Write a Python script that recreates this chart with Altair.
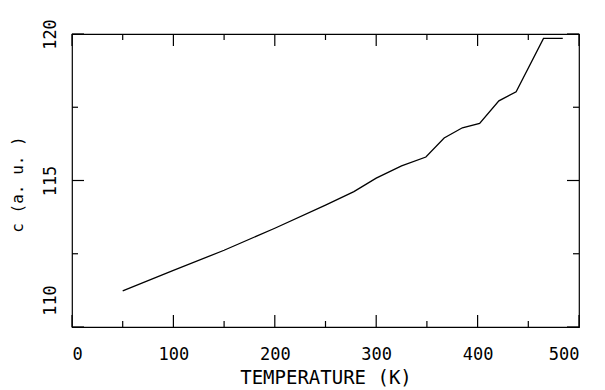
import altair as alt
import pandas as pd

# Data
temperature = [50, 100, 150, 200, 250, 278, 300, 325, 349, 367, 385, 402, 421, 438, 465, 484]
c_value = [111.23, 111.93, 112.62, 113.37, 114.16, 114.62, 115.08, 115.5, 115.8,
           116.45, 116.8, 116.95, 117.72, 118.03, 119.85, 119.85]

x_major = [0, 100, 200, 300, 400, 500]
x_minor = [50, 150, 250, 350, 450]
y_major = [110, 115, 120]
y_minor = [112.5, 117.5]

W, H = 507, 293
FONT = "DejaVu Sans Mono"
MAJ, MIN = 12, 6

xs = alt.Scale(domain=[0, 500], nice=False, zero=False)
ys = alt.Scale(domain=[110, 120], nice=False, zero=False)

x_axis = alt.Axis(
    values=x_major, ticks=False, grid=False, domain=False,
    labelFont=FONT, labelFontSize=17, labelColor="black", labelPadding=19,
    title="TEMPERATURE  (K)", titleFont=FONT, titleFontSize=19,
    titleFontWeight="normal", titleColor="black",
    titleBaseline="alphabetic", titleY=56)
y_axis = alt.Axis(
    values=y_major, ticks=False, grid=False, domain=False,
    labelFont=FONT, labelFontSize=17, labelColor="black", labelPadding=17,
    labelAngle=270, labelAlign="center", labelBaseline="alphabetic",
    labelOffset={"condition": {"test": "datum.value == 110", "value": -27}, "value": 0},
    title="c   (a. u. )", titleFont=FONT, titleFontSize=16,
    titleFontWeight="normal", titleColor="black",
    titleAngle=270, titleAlign="center", titleBaseline="alphabetic",
    titleX=-50, titleY=150)

df = pd.DataFrame({"T": temperature, "c": c_value})

line = alt.Chart(df).mark_line(color="black", strokeWidth=1.3).encode(
    x=alt.X("T:Q", scale=xs, axis=x_axis),
    y=alt.Y("c:Q", scale=ys, axis=y_axis),
)


def xticks(vals, length, top):
    d = pd.DataFrame({"T": vals})
    y0 = 0 if top else H
    y1 = length if top else H - length
    return alt.Chart(d).mark_rule(color="black", strokeWidth=1.2).encode(
        x=alt.X("T:Q", scale=xs, axis=x_axis),
        y=alt.value(y0), y2=alt.value(y1))


def yticks(vals, length, right):
    d = pd.DataFrame({"c": vals})
    x0 = W if right else 0
    x1 = W - length if right else length
    return alt.Chart(d).mark_rule(color="black", strokeWidth=1.2).encode(
        y=alt.Y("c:Q", scale=ys, axis=y_axis),
        x=alt.value(x0), x2=alt.value(x1))


layers = [
    line,
    xticks(x_major, MAJ, False), xticks(x_minor, MIN, False),
    xticks(x_major, MAJ, True), xticks(x_minor, MIN, True),
    yticks(y_major, MAJ, False), yticks(y_minor, MIN, False),
    yticks(y_major, MAJ, True), yticks(y_minor, MIN, True),
]

chart = alt.layer(*layers).properties(
    width=W, height=H,
    autosize=alt.AutoSizeParams(type="none"),
    padding={"left": 64, "top": 26, "right": 18, "bottom": 63},
    background="white",
).configure_view(stroke="black", strokeWidth=1.2)

chart.save("out.html", embed_options={"renderer": "svg", "actions": False})
